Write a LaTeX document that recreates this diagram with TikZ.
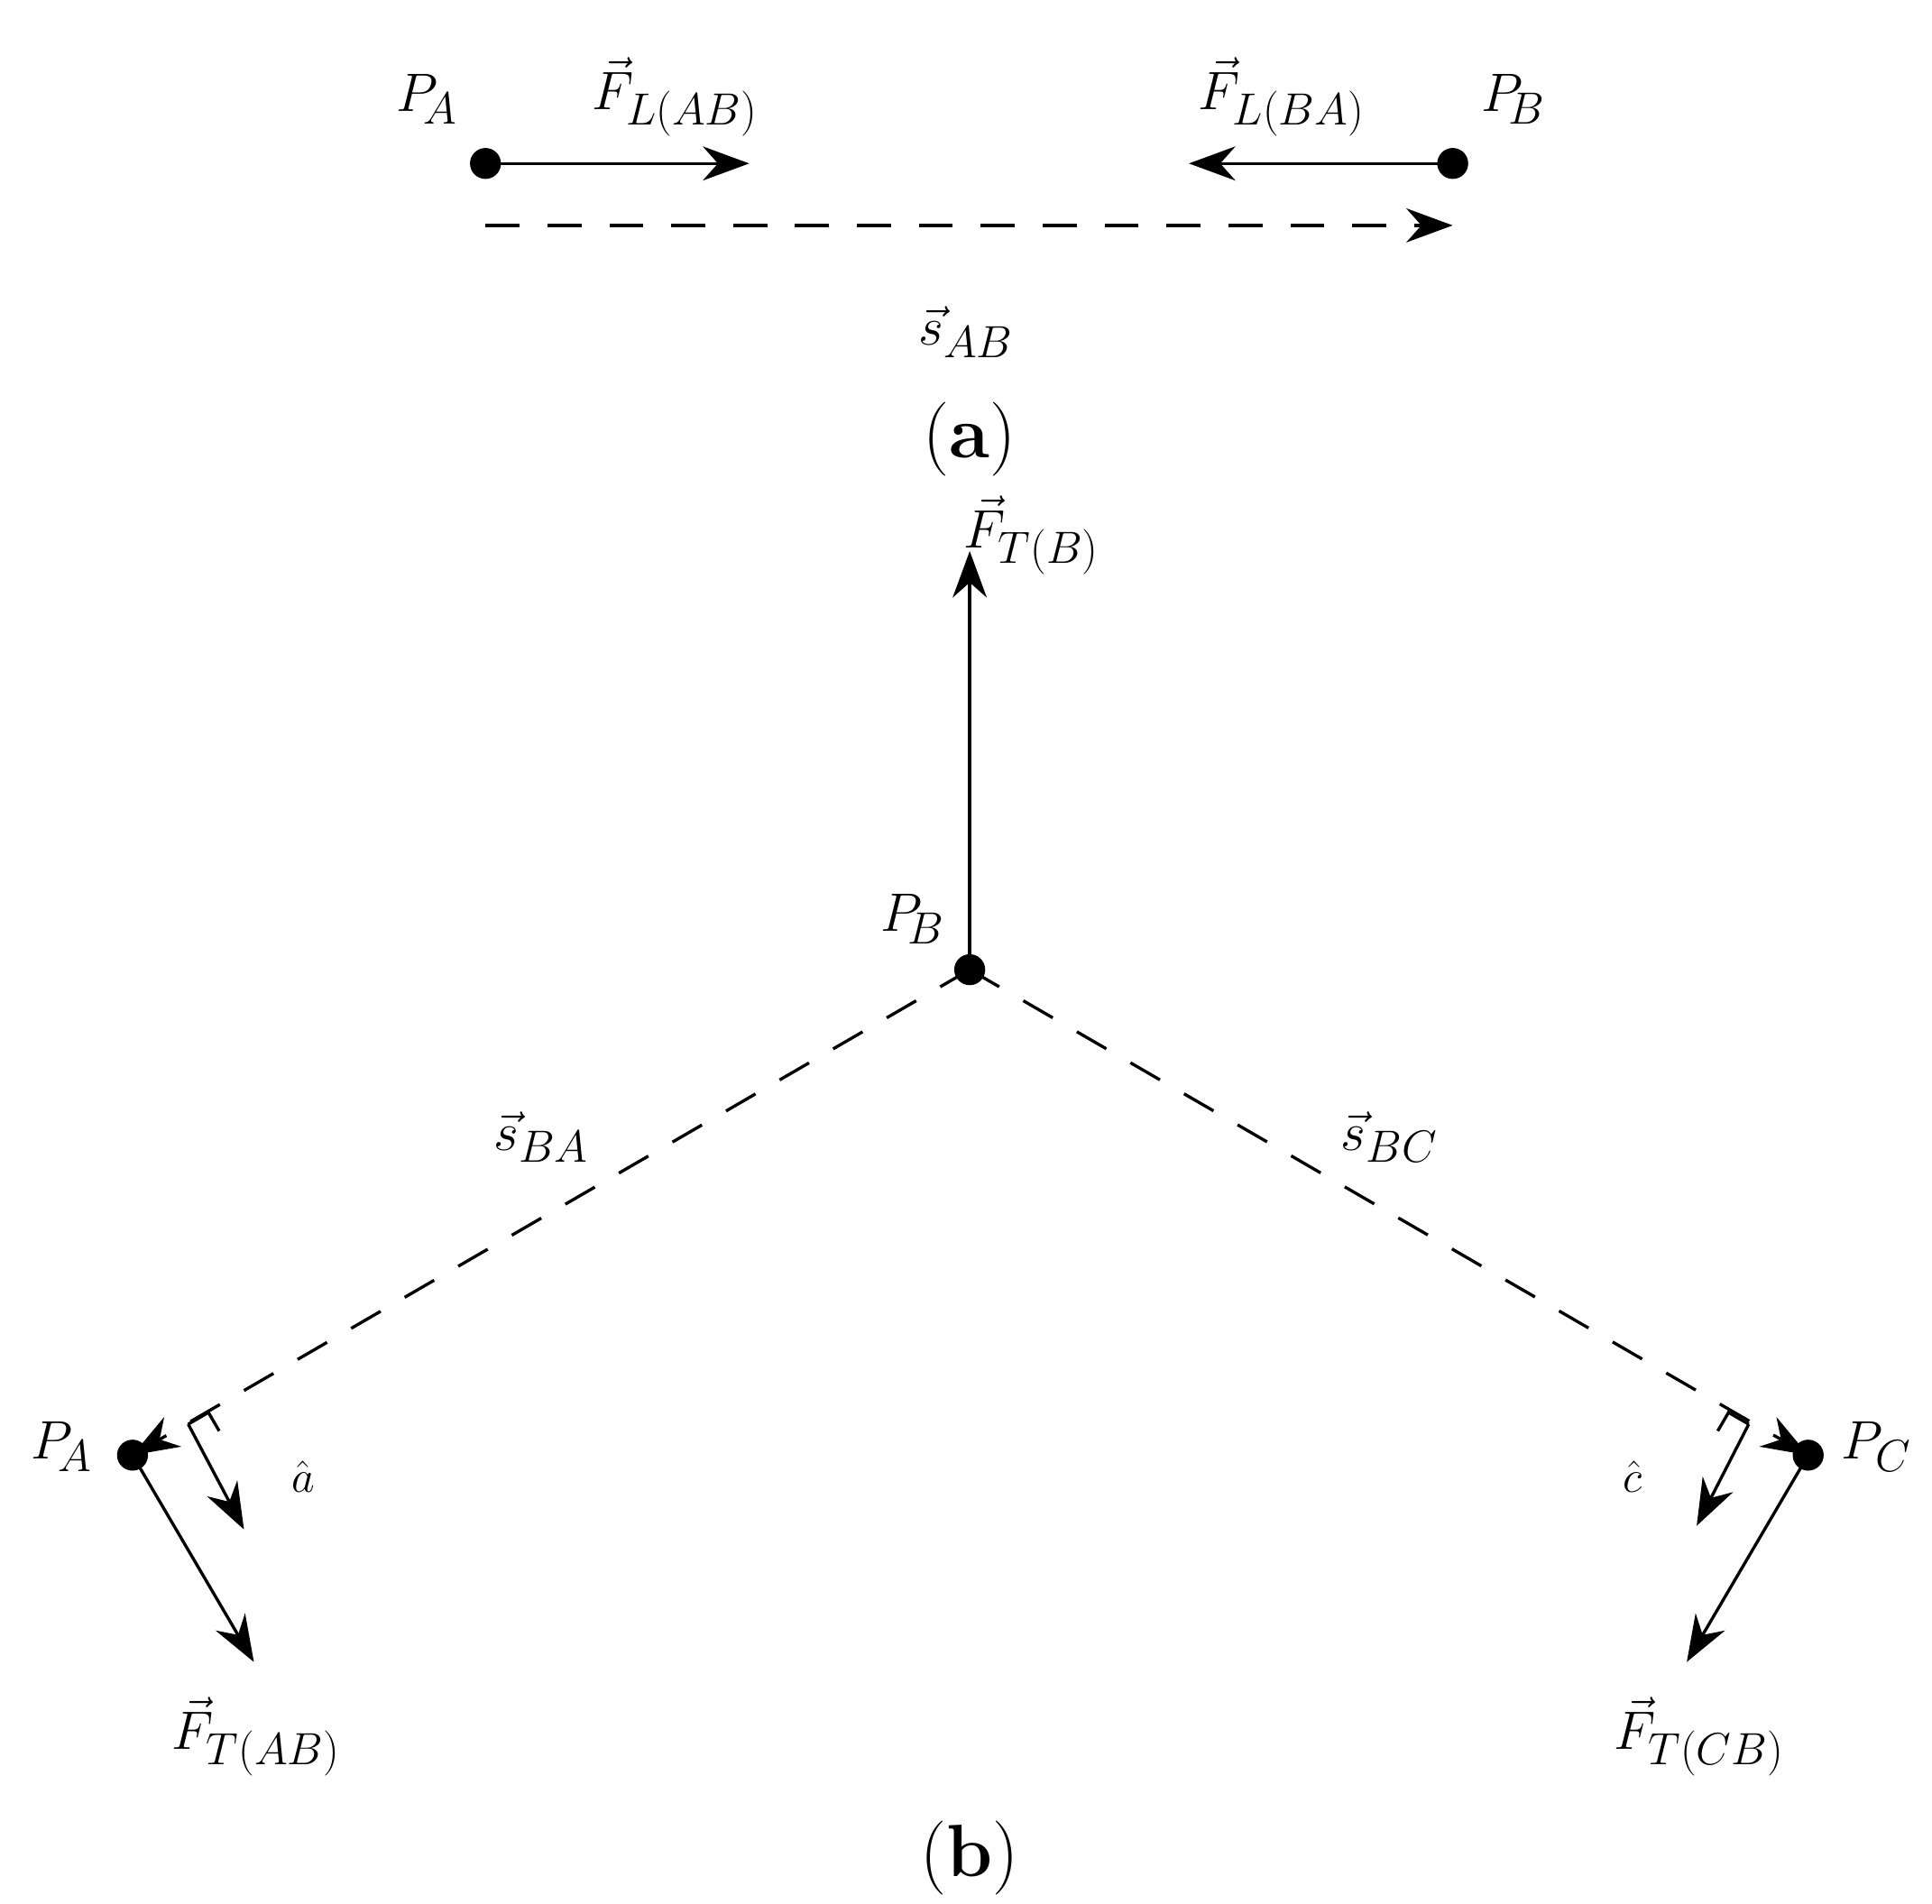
\documentclass[tikz,border=0pt]{standalone}
\usepackage{amsmath}
\usetikzlibrary{arrows.meta}
\begin{document}
\begin{tikzpicture}[x=0.02cm,y=-0.02cm,
  dot/.style={circle,fill=black,inner sep=0pt,minimum size=0.5cm},
  vec/.style={line width=1.4pt,-{Stealth[length=0.75cm,width=0.55cm]}},
  dvec/.style={line width=1.4pt,dash pattern=on 0.55cm off 0.45cm,-{Stealth[length=0.75cm,width=0.55cm]}},
  lbl/.style={font=\fontsize{32}{38}\selectfont},
  captxt/.style={font=\fontsize{34}{40}\selectfont}]
\useasboundingbox (0,0) rectangle (1560,1537);
% (a)
\node[dot] (A1) at (392,132) {};
\node[dot] (B1) at (1173,132) {};
\coordinate (FA1) at (605,132);
\coordinate (FB1) at (960,132);
\draw[vec] (A1.center) -- (FA1);
\draw[vec] (B1.center) -- (FB1);
\coordinate (d1) at (392,182);
\coordinate (d2) at (1173,182);
\draw[dvec] (d1) -- (d2);
\node[lbl] (lPA1) at (345,80) {$P_{\!A}$};
\node[lbl] (lF1) at (545,78) {$\vec F_{L(AB)}$};
\node[lbl] (lF2) at (1035,78) {$\vec F_{L(BA)}$};
\node[lbl] (lPB1) at (1222,80) {$P_{\!B}$};
\node[lbl] (ls1) at (780,268) {$\vec s_{AB}$};
\node[captxt] (ca) at (783,355) {(\textbf{a})};
% (b)
\node[dot] (B) at (783,783) {};
\node[dot] (A) at (107,1175) {};
\node[dot] (C) at (1460,1175) {};
\coordinate (FT) at (783,445);
\draw[vec] (B.center) -- (FT);
\draw[dvec] (B.center) -- (A.center);
\draw[dvec] (B.center) -- (C.center);
\coordinate (FA) at (205,1342);
\coordinate (FC) at (1362,1342);
\draw[vec] (A.center) -- (FA);
\draw[vec] (C.center) -- (FC);
% unit normals
\coordinate (a0) at (152,1150);
\coordinate (a1) at (197,1235);
\draw[vec] (a0) -- (a1);
\coordinate (c0) at (1412,1150);
\coordinate (c1) at (1370,1232);
\draw[vec] (c0) -- (c1);
\draw[line width=1.4pt] (152,1150) -- ++(16.3,-9.5) -- ++(8.7,15);
\draw[line width=1.4pt] (1412,1150) -- ++(-16.3,-9.5) -- ++(-8.7,15);
\node[lbl] (lFT) at (833,432) {$\vec F_{T(B)}$};
\node[lbl] (lPB) at (737,742) {$P_{\!B}$};
\node[lbl] (lsBA) at (437,918) {$\vec s_{BA}$};
\node[lbl] (lsBC) at (1122,918) {$\vec s_{BC}$};
\node[lbl] (lPA) at (50,1168) {$P_{\!A}$};
\node[lbl] (lPC) at (1515,1168) {$P_{C}$};
\node[lbl,font=\fontsize{22}{26}\selectfont] (la) at (245,1192) {$\hat a$};
\node[lbl,font=\fontsize{22}{26}\selectfont] (lc) at (1318,1192) {$\hat c$};
\node[lbl] (lFA) at (207,1402) {$\vec F_{T(AB)}$};
\node[lbl] (lFC) at (1372,1402) {$\vec F_{T(CB)}$};
\node[captxt] (cb) at (783,1500) {(\textbf{b})};
\end{tikzpicture}
\end{document}
